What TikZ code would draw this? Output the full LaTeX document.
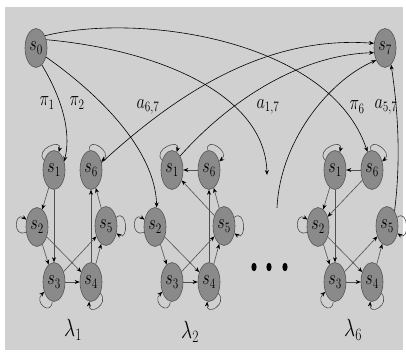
\documentclass[tikz,border=0pt]{standalone}
\usepackage{graphicx}
\usetikzlibrary{shapes.geometric,arrows.meta}
\definecolor{bg}{RGB}{208,208,208}
\definecolor{nodefill}{RGB}{138,138,138}
\definecolor{nodeline}{RGB}{85,85,85}
\definecolor{edgeline}{RGB}{80,80,80}
\newcommand\nt[1]{\scalebox{0.78}[1]{$#1$}}
\tikzset{
  st/.style={ellipse,draw=nodeline,fill=nodefill,line width=0.6pt,minimum width=22pt,minimum height=39pt,inner sep=0pt,font=\fontsize{20}{22}\selectfont},
  ed/.style={draw=edgeline,line width=0.6pt,-{Stealth[length=5pt,width=4pt,color=black]}},
  lg/.style={draw=black,line width=0.6pt,-{Stealth[length=5pt,width=4pt]}},
  lp/.style={loop,min distance=15pt,looseness=1},
  lab/.style={inner sep=0pt,font=\fontsize{22}{24}\selectfont},
  lam/.style={inner sep=0pt,font=\fontsize{25}{28}\selectfont}
}
\begin{document}
\begin{tikzpicture}[x=1pt,y=1pt]
\useasboundingbox (0,0) rectangle (406,352);
\fill[white] (0,0) rectangle (406,352);
\fill[bg] (5,2) rectangle (403,345);
% start / goal
\node[st] (s0) at (36,304) {\nt{s_0}};
\node[st] (s7) at (385,304) {\nt{s_7}};
% groups
\foreach \g/\dx in {a/0,b/118,c/281}{
  \node[st] (\g1) at (54+\dx,182) {\nt{s_1}};
  \node[st] (\g6) at (91+\dx,182) {\nt{s_6}};
  \node[st] (\g2) at (37+\dx,125) {\nt{s_2}};
  \node[st] (\g5) at (106+\dx,126) {\nt{s_5}};
  \node[st] (\g3) at (54+\dx,70) {\nt{s_3}};
  \node[st] (\g4) at (91+\dx,70) {\nt{s_4}};
  \draw[ed] (\g1) to[lp,out=135,in=75] (\g1);
  \draw[ed] (\g6) to[lp,out=95,in=40] (\g6);
  \draw[ed] (\g2) to[lp,out=205,in=145] (\g2);
  \draw[ed] (\g5) to[lp,out=40,in=-35] (\g5);
  \draw[ed] (\g3) to[lp,out=265,in=225] (\g3);
  \draw[ed] (\g4) to[lp,out=-50,in=-95] (\g4);
  \draw[ed] (\g2) -- (\g3);
  \draw[ed] (\g2) -- (\g4);
  \draw[ed] (\g3) -- (\g4);
  \draw[ed] (\g3) -- (\g5);
  \draw[ed] (\g4) -- (\g5);
}
% group 1 specific
\draw[ed] (a1) -- (a2);
\draw[ed] (a1) -- (a3);
\draw[ed] (a4) -- (a6);
\draw[ed] (a5) -- (a6);
% group 2 specific
\draw[ed] (b6) -- (b1);
\draw[ed] (b5) -- (b1);
\draw[ed] (b4) -- (b6);
\draw[ed] (b5) -- (b6);
% group 6 specific
\draw[ed] (c6) -- (c1);
\draw[ed] (c1) -- (c2);
\draw[ed] (c1) -- (c3);
\draw[ed] (c6) -- (c2);
% free ends
\coordinate (fe) at (267,177);
\coordinate (fs) at (277,144);
% long curves
\draw[lg] (s0.54) .. controls (140,340) and (330,312) .. (c6.104);
\draw[lg] (s0.39) .. controls (160,302) and (265,257) .. (fe);
\draw[lg] (s0.-42) .. controls (100,257) and (155,202) .. (b2.85);
\draw[lg] (s0.-71) .. controls (60,257) and (72,222) .. (a1.40);
\draw[lg] (a6.35) .. controls (170,252) and (260,317) .. (s7.157);
\draw[lg] (b1.60) .. controls (230,252) and (300,297) .. (s7.203);
\draw[lg] (fs) .. controls (280,212) and (330,272) .. (s7.234);
\draw[lg] (c5.63) .. controls (401,192) and (398,242) .. (s7.-70);
% labels
\node[lab] (lp1) at (47,249) {\nt{\pi_1}};
\node[lab] (lp2) at (77,249) {\nt{\pi_2}};
\node[lab] (la67) at (148,245) {\nt{a_{6,7}}};
\node[lab] (la17) at (268,245) {\nt{a_{1,7}}};
\node[lab] (lp6) at (357,245) {\nt{\pi_6}};
\node[lab] (la57) at (386,245) {\nt{a_{5,7}}};
\node[lam] (l1) at (73,22) {\nt{\lambda_1}};
\node[lam] (l2) at (190,20) {\nt{\lambda_2}};
\node[lam] (l6) at (353,22) {\nt{\lambda_6}};
% dots
\fill (254,85) ellipse (2.6 and 4.2);
\fill (269,85) ellipse (2.6 and 4.2);
\fill (285,85) ellipse (2.6 and 4.2);
\end{tikzpicture}
\end{document}
